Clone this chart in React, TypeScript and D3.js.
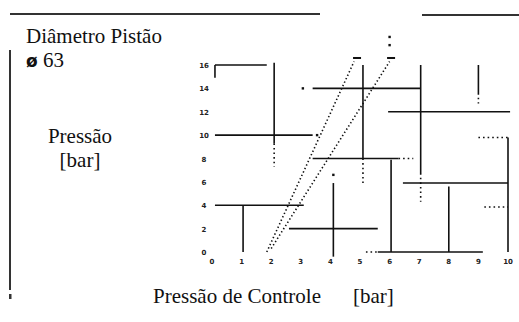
import React from "react";
import * as d3 from "d3";

const width = 519;
const height = 322;
const plot = { left: 212, right: 508, top: 65, bottom: 252 };

const xTicks = [0, 1, 2, 3, 4, 5, 6, 7, 8, 9, 10];
const yTicks = [0, 2, 4, 6, 8, 10, 12, 14, 16];

// [x1, y1, x2, y2] in chart units (control pressure, pressure)
const solidLines = [
  [0.1, 16, 1.85, 16],
  [0.1, 16, 0.1, 14.9],
  [2.1, 16.2, 2.1, 9.3],
  [0.1, 10, 3.4, 10],
  [3.4, 14, 7.05, 14],
  [3.4, 8, 6.3, 8],
  [4.1, 5.9, 4.1, -0.4],
  [0.1, 4, 3.1, 4],
  [1.05, 4, 1.05, 0],
  [2.6, 2, 5.6, 2],
  [5.1, 16, 5.1, 8],
  [7.05, 16, 7.05, 6.75],
  [5.95, 12, 10.07, 12],
  [9, 16, 9, 13.6],
  [10, 9.8, 10, 0],
  [6.45, 5.9, 10, 5.9],
  [6.05, 7.9, 6.05, 0],
  [8, 5.6, 8, 0],
  [5.6, 0, 9.15, 0],
];

const dottedLines = [
  [2.1, 9.3, 2.1, 7.3],
  [6.3, 8, 6.8, 8],
  [5.1, 8, 5.1, 5.9],
  [7.05, 6.75, 7.05, 4.3],
  [9, 13.6, 9, 12.7],
  [9, 9.8, 10, 9.8],
  [9.2, 3.85, 10, 3.85],
  [5.2, 0, 5.6, 0],
];

// the two dotted characteristic lines
const diagonals = [
  [1.85, 0, 4.8, 16.3],
  [2.0, 0.3, 6.0, 16.3],
];

const dashMarks = [
  [4.9, 16.6],
  [6.05, 16.6],
];
const dots = [
  [6.0, 18.4],
  [6.0, 17.7],
  [3.07, 14],
  [3.55, 10],
  [4.1, 6.6],
];

const x = d3.scaleLinear().domain([0, 10]).range([plot.left, plot.right]);
const y = d3.scaleLinear().domain([0, 16]).range([plot.bottom, plot.top]);
const line = d3.line<number[]>().x((d) => x(d[0])).y((d) => y(d[1]));

const seg = (s: number[]) => line([[s[0], s[1]], [s[2], s[3]]]) || "";

const serif = "'Liberation Serif', 'DejaVu Serif', serif";

export default function App() {
  return (
    <svg
      width={width}
      height={height}
      style={{ position: "absolute", left: 0, top: 0, background: "#fff" }}
    >
      {/* page frame */}
      <line x1={10} y1={14} x2={320} y2={14} stroke="#333" strokeWidth={2} />
      <line x1={422} y1={15} x2={519} y2={15} stroke="#333" strokeWidth={2} />
      <line x1={10} y1={50} x2={10} y2={290} stroke="#333" strokeWidth={2} />
      <rect x={9} y={294} width={2.5} height={5} fill="#333" />

      {solidLines.map((s, i) => (
        <path key={"s" + i} d={seg(s)} stroke="#111" strokeWidth={1.6} fill="none" />
      ))}
      {dottedLines.map((s, i) => (
        <path key={"d" + i} d={seg(s)} stroke="#111" strokeWidth={1.6}
          strokeDasharray="1.6,3" fill="none" />
      ))}
      {diagonals.map((s, i) => (
        <path key={"g" + i} d={seg(s)} stroke="#111" strokeWidth={1.6}
          strokeDasharray="1.4,2.4" fill="none" />
      ))}
      {dashMarks.map((m, i) => (
        <rect key={"m" + i} x={x(m[0]) - 4} y={y(m[1]) - 1} width={8} height={2} fill="#111" />
      ))}
      {dots.map((m, i) => (
        <rect key={"p" + i} x={x(m[0]) - 1.2} y={y(m[1]) - 1.2} width={2.4} height={2.4} fill="#111" />
      ))}

      {/* tick labels */}
      <g fontFamily="'DejaVu Sans', sans-serif" fontSize={7} fontWeight="bold" fill="#222">
        {xTicks.map((t) => (
          <text key={"x" + t} x={x(t)} y={plot.bottom + 12} textAnchor="middle">{t}</text>
        ))}
        {yTicks.map((t) => (
          <text key={"y" + t} x={plot.left - 8} y={y(t) + 3} textAnchor="middle">{t}</text>
        ))}
      </g>

      {/* titles */}
      <g fontFamily={serif} fontSize={21} fill="#111">
        <text x={26} y={43}>Diâmetro Pistão</text>
        <text x={26} y={67}>
          <tspan fontFamily="'DejaVu Sans', sans-serif" fontWeight="bold" fontSize={17}>ø</tspan> 63
        </text>
        <text x={80} y={143} textAnchor="middle">Pressão</text>
        <text x={80} y={167} textAnchor="middle">[bar]</text>
        <text x={153} y={303}>Pressão de Controle</text>
        <text x={353} y={303}>[bar]</text>
      </g>
    </svg>
  );
}
